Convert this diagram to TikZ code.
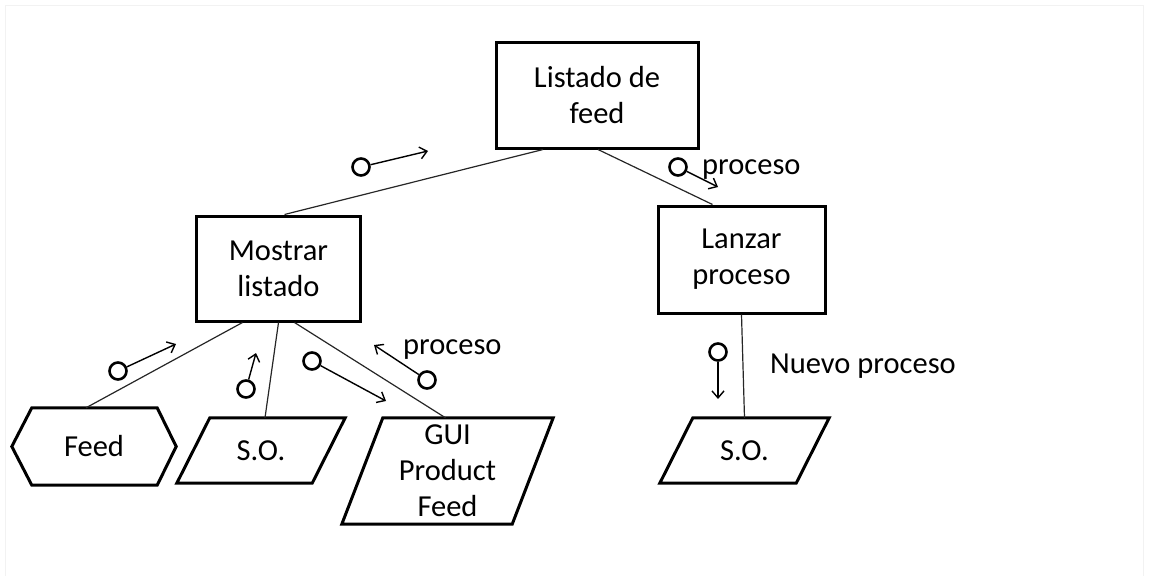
\documentclass[tikz,border=0pt]{standalone}
\usepackage{fontspec}
\setmainfont{Carlito}
\usetikzlibrary{arrows.meta, positioning, calc}

\begin{document}
\begin{tikzpicture}[
		x=1pt, y=-1pt,
		font=\fontsize{30.5}{36}\selectfont,
		box/.style={draw, line width=3pt, align=center, inner sep=0pt},
		shapebox/.style={align=center, inner sep=0pt},
		outline/.style={line width=3pt, line join=miter},
		link/.style={black!85, line width=1.2pt},
		couple/.style={circle, draw, line width=2.6pt, minimum size=17pt, inner sep=0pt},
		flow/.style={-{Straight Barb[length=7pt, width=12pt]}, line width=1.4pt},
		lbl/.style={anchor=base west, inner sep=0pt}
		]
		
		\useasboundingbox (0,0) rectangle (1152,576);
		% faint page frame
		\draw[black!5, line width=1pt] (5,576) -- (5,5.5) -- (1143,5.5) -- (1143,576);
		
		% Modules
		\node[box, minimum width=202pt, minimum height=106pt] (listado) at (597,95) {Listado de\\feed};
		\node[box, minimum width=164pt, minimum height=105pt] (mostrar) at (278.5,268.5) {Mostrar\\listado};
		\node[box, minimum width=167pt, minimum height=107pt] (lanzar) at (741.5,259.5) {Lanzar\\proceso};
		
		% Data and devices
		\node[shapebox, minimum width=164pt, minimum height=77pt] (feed) at (94,446.5) {Feed};
		\node[shapebox, minimum width=168pt, minimum height=65pt] (so1) at (261,450.5) {S.O.};
		\node[shapebox, minimum width=211pt, minimum height=106pt] (gui) at (447.5,471) {GUI\\Product\\Feed};
		\node[shapebox, minimum width=169pt, minimum height=65pt] (so2) at (744.5,450.5) {S.O.};
		
		% hexagon round the feed
		\draw[outline] (feed.west) -- ($(feed.north west)+(20,0)$) -- ($(feed.north east)+(-19,0)$)
			-- (feed.east) -- ($(feed.south east)+(-19,0)$) -- ($(feed.south west)+(20,0)$) -- cycle;
		% slanted boxes
		\foreach \n/\d in {so1/33, gui/41, so2/33}
			\draw[outline] ($(\n.north west)+(\d,0)$) -- (\n.north east) -- ($(\n.south east)+(-\d,0)$) -- (\n.south west) -- cycle;
		
		% Calls
		\draw[link] ($(listado.south)+(-54,0)$) -- ($(mostrar.north)+(6,0)$);
		\draw[link] ($(listado.south)+(1,0)$) -- ($(lanzar.north)+(-29,0)$);
		\draw[link] ($(mostrar.south)+(-36,0)$) -- ($(feed.north)+(-8,0)$);
		\draw[link] (mostrar.south) -- ($(so1.north)+(4,0)$);
		\draw[link] ($(mostrar.south)+(16,0)$) -- ($(gui.north)+(-2,0)$);
		\draw[link] (lanzar.south) -- (so2.north);
		
		% Couples: circle and arrow
		\foreach \i/\cx/\cy/\ax/\ay in {1/361/167/428/151, 2/678/167/718/187, 3/118/371/176/344,
			4/246/389/256/353, 5/312/361/386/401, 6/427/380/374/345, 7/718/352/718/399} {
			\node[couple] (c\i) at (\cx,\cy) {};
			\coordinate (a\i) at (\ax,\ay);
			\draw[flow] (c\i) -- (a\i);
		}
		
		% Couple labels
		\node[lbl] (p1) at (702,174) {proceso};
		\node[lbl] (p2) at (403,354) {proceso};
		\node[lbl] (p3) at (770,373) {Nuevo proceso};
		
	\end{tikzpicture}
\end{document}
